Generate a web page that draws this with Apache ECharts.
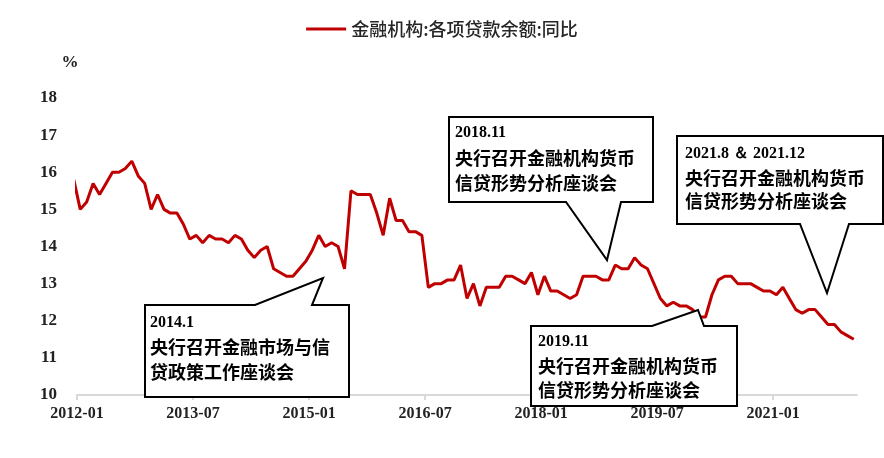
<!DOCTYPE html>
<html>
<head>
<meta charset="utf-8">
<script src="https://cdn.jsdelivr.net/npm/echarts@6/dist/echarts.min.js"></script>
<style>
html,body{margin:0;padding:0;background:#fff;}
#chart{width:884px;height:458px;}
</style>
</head>
<body>
<div id="chart"></div>
<script>
// ---- data ----
const seriesName = '金融机构:各项贷款余额:同比';
const startMonth = '2011-12';
const axisStart = '2012-01';
const axisEnd = '2022-02';
const xTickLabels = ['2012-01','2013-07','2015-01','2016-07','2018-01','2019-07','2021-01'];
const yTicks = [10, 11, 12, 13, 14, 15, 16, 17, 18];
const loanGrowth = [15.8,
  15.0,15.2,15.7,15.4,15.7,16.0,16.0,16.1,16.3,15.9,15.7,15.0,
  15.4,15.0,14.9,14.9,14.6,14.2,14.3,14.1,14.3,14.2,14.2,14.1,
  14.3,14.2,13.9,13.7,13.9,14.0,13.4,13.3,13.2,13.2,13.4,13.6,
  13.9,14.3,14.0,14.1,14.0,13.4,15.5,15.4,15.4,15.4,14.9,14.3,
  15.3,14.7,14.7,14.4,14.4,14.3,12.9,13.0,13.0,13.1,13.1,13.5,
  12.6,13.0,12.4,12.9,12.9,12.9,13.2,13.2,13.1,13.0,13.3,12.7,
  13.2,12.8,12.8,12.7,12.6,12.7,13.2,13.2,13.2,13.1,13.1,13.5,
  13.4,13.4,13.7,13.5,13.4,13.0,12.6,12.4,12.5,12.4,12.4,12.3,
  12.1,12.1,12.7,13.1,13.2,13.2,13.0,13.0,13.0,12.9,12.8,12.8,
  12.7,12.9,12.6,12.3,12.2,12.3,12.3,12.1,11.9,11.9,11.7,11.6,
  11.5];
const notes = [
  {title:'2014.1', lines:['央行召开金融市场与信','贷政策工作座谈会']},
  {title:'2018.11', lines:['央行召开金融机构货币','信贷形势分析座谈会']},
  {title:'2019.11', lines:['央行召开金融机构货币','信贷形势分析座谈会']},
  {title:'2021.8 ＆ 2021.12', lines:['央行召开金融机构货币','信贷形势分析座谈会']}
];

// ---- helpers ----
function monthIndex(s){
  const p = s.split('-');
  const b = axisStart.split('-');
  return (parseInt(p[0]) - parseInt(b[0]))*12 + (parseInt(p[1]) - parseInt(b[1]));
}
function monthLabel(idx){
  const b = axisStart.split('-');
  const t = parseInt(b[0])*12 + parseInt(b[1]) - 1 + idx;
  const y = Math.floor(t/12), m = t%12 + 1;
  return y + '-' + (m < 10 ? '0' + m : m);
}
const start = monthIndex(startMonth);
const lineData = loanGrowth.map((v,i) => [start + i + 0.5, v]);
const tickVals = xTickLabels.map(monthIndex);

// ---- callouts (layout) ----
const serif = "'Liberation Serif','Times New Roman',serif";
const cjk = "'Noto Sans CJK SC','Liberation Serif',sans-serif";
const boxes = [
  {pts:[[145,305],[255,305],[323,278],[312,305],[349,305],[349,397],[145,397]], tx:150, ty:[323,347,372]},
  {pts:[[449,117],[653,117],[653,202],[621,202],[607,260],[566,202],[449,202]], tx:455, ty:[133,158,183]},
  {pts:[[531,326],[652,326],[698,310],[704,326],[737,326],[737,406],[531,406]], tx:538, ty:[342,366,390]},
  {pts:[[677,136],[883,136],[883,224],[849,224],[827,293],[800,224],[677,224]], tx:685, ty:[154,178,201]}
];
const graphics = [];
boxes.forEach((b,k) => {
  graphics.push({type:'polygon', z:100, shape:{points:b.pts},
    style:{fill:'#fff', stroke:'#000', lineWidth:2}});
  graphics.push({type:'text', z:101, x:b.tx, y:b.ty[0],
    style:{text:notes[k].title, font:'bold 16px ' + serif, fill:'#000', textVerticalAlign:'middle'}});
  notes[k].lines.forEach((ln,j) => {
    graphics.push({type:'text', z:101, x:b.tx, y:b.ty[j+1],
      style:{text:ln, font:'bold 18px ' + cjk, fill:'#000', textVerticalAlign:'middle'}});
  });
});

const chart = echarts.init(document.getElementById('chart'), null, {renderer:'canvas'});
chart.setOption({
  animation:false,
  backgroundColor:'#fff',
  legend:{
    top:15, left:'center',
    icon:'rect', itemWidth:40, itemHeight:3, itemGap:10,
    textStyle:{fontFamily:cjk, fontSize:18, color:'#262626', fontWeight:500},
    data:[seriesName]
  },
  grid:{left:77, right:27, top:98, bottom:63, containLabel:false},
  xAxis:{
    type:'value', min:monthIndex(axisStart), max:monthIndex(axisEnd),
    axisLine:{show:true, lineStyle:{color:'#d9d9d9', width:2}},
    axisTick:{show:true, customValues:tickVals, length:5, lineStyle:{color:'#d9d9d9', width:2}},
    axisLabel:{customValues:tickVals, formatter:v => monthLabel(v), margin:11,
      fontFamily:serif, fontWeight:'bold', fontSize:16, color:'#222'},
    splitLine:{show:false}
  },
  yAxis:{
    type:'value', min:yTicks[0], max:yTicks[yTicks.length-1], interval:1,
    name:'%', nameLocation:'end', nameGap:27,
    nameTextStyle:{fontFamily:serif, fontWeight:'bold', fontSize:17, color:'#222', align:'center', padding:[0,14,0,0]},
    axisLine:{show:false}, axisTick:{show:false},
    axisLabel:{margin:20, fontFamily:serif, fontWeight:'bold', fontSize:17, color:'#222'},
    splitLine:{show:false}
  },
  series:[{
    name:seriesName, type:'line', data:lineData, symbol:'none', clip:true,
    lineStyle:{color:'#C00000', width:3}, itemStyle:{color:'#C00000'}
  }],
  graphic:graphics
});
</script>
</body>
</html>
